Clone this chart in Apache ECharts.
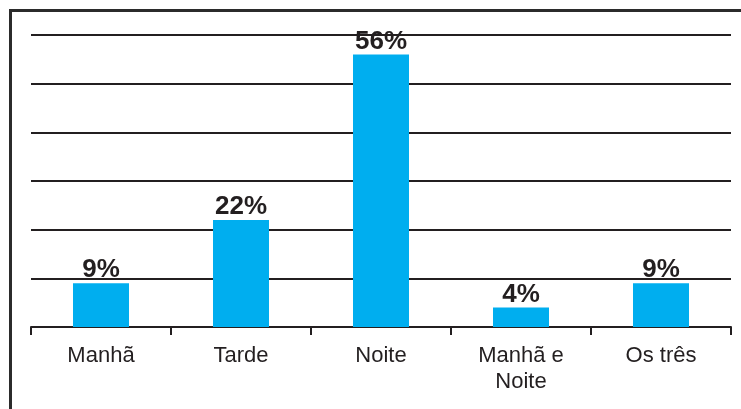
<!DOCTYPE html>
<html>
<head>
<meta charset="utf-8">
<script src="https://cdn.jsdelivr.net/npm/echarts@6/dist/echarts.min.js"></script>
<style>
  html, body { margin: 0; padding: 0; background: #ffffff; }
  #chart { width: 741px; height: 409px; }
</style>
</head>
<body>
<div id="chart"></div>
<script>
// Período preferido
const categories = ['Manhã', 'Tarde', 'Noite', 'Manhã e\nNoite', 'Os três'];
const values = [9, 22, 56, 4, 9];

const ink = '#231F20';
const chart = echarts.init(document.getElementById('chart'), null, { renderer: 'canvas' });

chart.setOption({
  backgroundColor: '#ffffff',
  animation: false,
  grid: { left: 31, right: 10, top: 35, bottom: 82, containLabel: false },
  xAxis: {
    type: 'category',
    data: categories,
    boundaryGap: true,
    axisLine: { show: true, lineStyle: { color: ink, width: 2 } },
    axisTick: { show: true, length: 8, lineStyle: { color: ink, width: 2 } },
    axisLabel: {
      color: ink,
      fontFamily: 'Liberation Sans, Arial, sans-serif',
      fontSize: 22,
      lineHeight: 26,
      margin: 16,
      interval: 0
    },
    splitLine: { show: false }
  },
  yAxis: {
    type: 'value',
    min: 0,
    max: 60,
    interval: 10,
    axisLine: { show: false },
    axisTick: { show: false },
    axisLabel: { show: false },
    splitLine: { show: true, lineStyle: { color: ink, width: 2 } }
  },
  series: [{
    type: 'bar',
    data: values,
    barWidth: '40%',
    itemStyle: { color: '#00AEEF' },
    label: {
      show: true,
      position: 'top',
      distance: 1,
      formatter: '{c}%',
      color: ink,
      fontFamily: 'Liberation Sans, Arial, sans-serif',
      fontWeight: 'bold',
      fontSize: 26,
      lineHeight: 24
    }
  }],
  graphic: [
    // frame: top and left rules
    { type: 'line', z: 100, shape: { x1: 9, y1: 10.5, x2: 741, y2: 10.5 }, style: { stroke: '#2b2b2b', lineWidth: 3 } },
    { type: 'line', z: 100, shape: { x1: 10.5, y1: 9, x2: 10.5, y2: 409 }, style: { stroke: '#2b2b2b', lineWidth: 3 } }
  ]
});
</script>
</body>
</html>
